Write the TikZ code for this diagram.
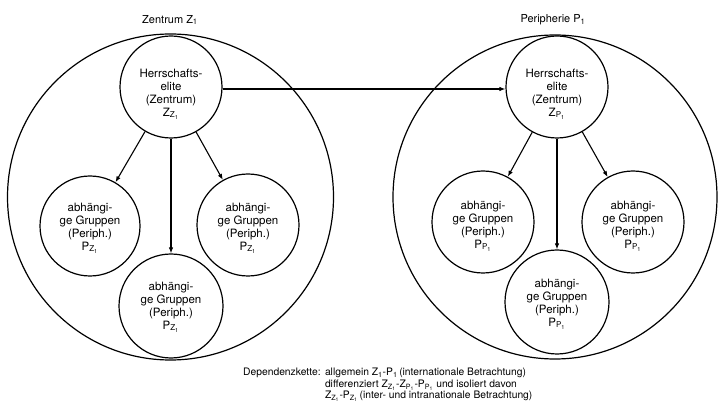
\documentclass[tikz,border=0pt]{standalone}
\usepackage{fontspec}
\setmainfont{TeX Gyre Heros}
\usetikzlibrary{arrows.meta}
\begin{document}
\begin{tikzpicture}[x=1pt,y=-1pt,
  circ/.style={circle,draw,line width=1.2pt,inner sep=0pt,minimum size=#1},
  txt/.style={font=\fontsize{11.5}{13}\selectfont,align=center,inner sep=0pt},
  ttl/.style={font=\fontsize{11}{13}\selectfont,inner sep=0pt},
  captxt/.style={font=\fontsize{10.3}{11.6}\selectfont,align=left,inner sep=0pt},
  arr/.style={-{Latex[length=6pt,width=4.5pt]},line width=1.1pt}]
\useasboundingbox (0,0) rectangle (718,414);
% big circles
\node[circ=326pt] (Z) at (170.5,197) {};
\node[circ=324pt] (P) at (555,197) {};
% titles
\node[ttl] (Zt) at (170,20) {Zentrum Z\textsubscript{1}};
\node[ttl] (Pt) at (553,20) {Peripherie P\textsubscript{1}};
% left group
\node[circ=102pt] (LT) at (171,87) {};
\node[circ=100pt] (LL) at (90,226) {};
\node[circ=102pt] (LR) at (248,225) {};
\node[circ=104pt] (LB) at (171,306) {};
% right group
\node[circ=102pt] (RT) at (557,87) {};
\node[circ=102pt] (RL) at (483,222) {};
\node[circ=102pt] (RR) at (633,222) {};
\node[circ=104pt] (RB) at (557,302) {};
% texts
\node[txt] (LTt) at (171,94) {Herrschafts-\\elite\\(Zentrum)\\Z\textsubscript{Z\textsubscript{1}}};
\node[txt] (RTt) at (557,94) {Herrschafts-\\elite\\(Zentrum)\\Z\textsubscript{P\textsubscript{1}}};
\node[txt] (LLt) at (90,228) {abhängi-\\ge Gruppen\\(Periph.)\\P\textsubscript{Z\textsubscript{1}}};
\node[txt] (LRt) at (248,228) {abhängi-\\ge Gruppen\\(Periph.)\\P\textsubscript{Z\textsubscript{1}}};
\node[txt] (LBt) at (171,307) {abhängi-\\ge Gruppen\\(Periph.)\\P\textsubscript{Z\textsubscript{1}}};
\node[txt] (RLt) at (483,226) {abhängi-\\ge Gruppen\\(Periph.)\\P\textsubscript{P\textsubscript{1}}};
\node[txt] (RRt) at (633,226) {abhängi-\\ge Gruppen\\(Periph.)\\P\textsubscript{P\textsubscript{1}}};
\node[txt] (RBt) at (557,304) {abhängi-\\ge Gruppen\\(Periph.)\\P\textsubscript{P\textsubscript{1}}};
% arrows
\draw[arr] (LT) -- (LL);
\draw[arr] (LT) -- (LB);
\draw[arr] (LT) -- (LR);
\draw[arr] (RT) -- (RL);
\draw[arr] (RT) -- (RB);
\draw[arr] (RT) -- (RR);
\draw[arr] ([yshift=-2pt]LT.east) -- ([yshift=-2pt]RT.west);
% caption
\node[captxt,anchor=north west] (capL) at (243,368) {Dependenzkette:};
\node[captxt,anchor=north west] (capR) at ([xshift=4pt]capL.north east) {allgemein Z\textsubscript{1}-P\textsubscript{1}\,(internationale Betrachtung)\\
differenziert Z\textsubscript{Z\textsubscript{1}}-Z\textsubscript{P\textsubscript{1}}-P\textsubscript{P\textsubscript{1}} und isoliert davon\\
Z\textsubscript{Z\textsubscript{1}}-P\textsubscript{Z\textsubscript{1}}\,(inter- und intranationale Betrachtung)};
\end{tikzpicture}
\end{document}
